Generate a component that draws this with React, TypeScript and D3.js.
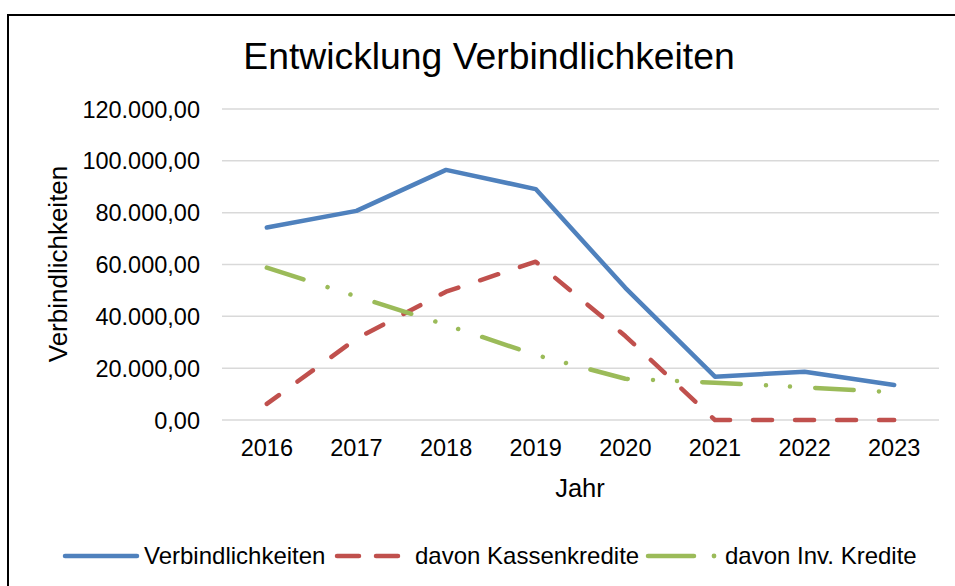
import React from "react";
import * as d3 from "d3";

const years = ["2016", "2017", "2018", "2019", "2020", "2021", "2022", "2023"];
const verbindlichkeiten = [74250, 80700, 96500, 89100, 51000, 16700, 18650, 13500];
const kassenkredite = [6200, 31400, 49500, 61100, 32400, 0, 0, 0];
const invKredite = [58800, 47700, 36700, 25100, 15900, 14400, 12600, 10700];
const yTicks = [0, 20000, 40000, 60000, 80000, 100000, 120000];

const FONT = "'Liberation Sans', Arial, sans-serif";

const series = [
  { name: "Verbindlichkeiten", values: verbindlichkeiten, color: "#4f81bd", dash: "", offset: 0 },
  { name: "davon Kassenkredite", values: kassenkredite, color: "#c0504d", dash: "19 23", offset: 4 },
  { name: "davon Inv. Kredite", values: invKredite, color: "#9bbb59", dash: "38.5 25.3 0.01 24 0.01 25.3", offset: 0 },
];

const fmt = (v: number) => {
  const s = d3.format(",.2f")(v);
  return s.replace(/,/g, "#").replace(/\./g, ",").replace(/#/g, ".");
};

export default function App() {
  const x = d3.scalePoint<string>().domain(years).range([222, 939]).padding(0.5);
  const y = d3.scaleLinear().domain([0, 120000]).range([420, 109]);
  const line = (vals: number[]) =>
    d3.line<number>().x((_, i) => x(years[i]) as number).y((v) => y(v))(vals) || "";

  const legendItems = [
    { x1: 65, x2: 137, tx: 144, s: series[0], dash: "", dot: 0 },
    { x1: 337, x2: 401, tx: 415, s: series[1], dash: "22 17", dot: 0 },
    { x1: 648, x2: 694, tx: 725, s: series[2], dash: "", dot: 714 },
  ];

  return (
    <svg
      width={955}
      height={586}
      style={{ position: "absolute", left: 0, top: 0, background: "#fff" }}
      fontFamily={FONT}
    >
      <rect x={0} y={0} width={955} height={586} fill="#fff" />
      <rect x={8} y={15} width={975} height={600} fill="#fff" stroke="#000" strokeWidth={2} />
      <text x={489} y={69} fontSize={37.3} textAnchor="middle" fill="#000">
        Entwicklung Verbindlichkeiten
      </text>
      {yTicks.map((t) => (
        <g key={t}>
          <line x1={222} x2={939} y1={y(t)} y2={y(t)} stroke="#d9d9d9" strokeWidth={1.5} />
          <text x={200} y={y(t) + 8.5} fontSize={23.5} textAnchor="end" fill="#000">
            {fmt(t)}
          </text>
        </g>
      ))}
      {years.map((yr) => (
        <text key={yr} x={x(yr)} y={456} fontSize={23.5} textAnchor="middle" fill="#000">
          {yr}
        </text>
      ))}
      <text x={580} y={497} fontSize={25.5} textAnchor="middle" fill="#000">
        Jahr
      </text>
      <text
        transform="translate(67,264) rotate(-90)"
        fontSize={26}
        textAnchor="middle"
        fill="#000"
      >
        Verbindlichkeiten
      </text>
      {series.map((s) => (
        <path
          key={s.name}
          d={line(s.values)}
          fill="none"
          stroke={s.color}
          strokeWidth={4.5}
          strokeLinecap="round"
          strokeLinejoin="round"
          strokeDasharray={s.dash || undefined}
          strokeDashoffset={s.offset}
        />
      ))}
      {legendItems.map((l) => (
        <g key={l.s.name}>
          <line
            x1={l.x1}
            x2={l.x2}
            y1={556}
            y2={556}
            stroke={l.s.color}
            strokeWidth={4.5}
            strokeLinecap="round"
            strokeDasharray={l.dash || undefined}
          />
          {l.dot ? <circle cx={l.dot} cy={556} r={2.4} fill={l.s.color} /> : null}
          <text x={l.tx} y={564} fontSize={24} fill="#000">
            {l.s.name}
          </text>
        </g>
      ))}
    </svg>
  );
}
